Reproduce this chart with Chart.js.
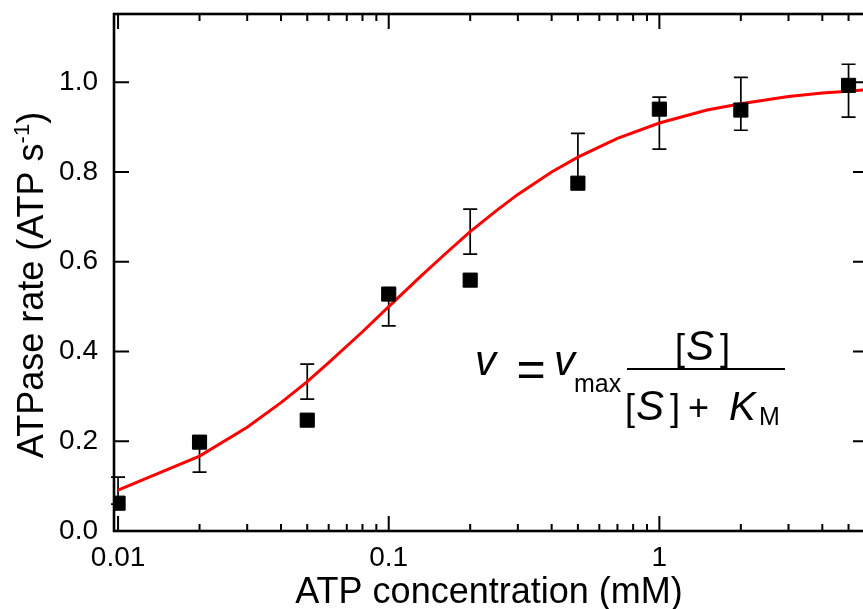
<!DOCTYPE html>
<html lang="en">
<head>
    <meta charset="UTF-8">
    <script src="https://cdn.jsdelivr.net/npm/chart.js"></script>
    <title>ATPase rate vs ATP</title>
    <style>
        body {
            margin: 0;
            overflow: hidden;
            background: #fff;
        }

        .wrap {
            width: 880px;
            height: 609px;
        }
    </style>
</head>
<body>
    <div class="wrap"><canvas id="atpChart"></canvas></div>

    <script>
        // measured points (mM, ATP/s)
        const concentration = [0.01, 0.02, 0.05, 0.1, 0.2, 0.5, 1, 2, 5];
        const rate = [0.062, 0.198, 0.247, 0.528, 0.559, 0.775, 0.94, 0.938, 0.993];
        const errLow = [0.06, 0.131, 0.294, 0.457, 0.617, 0.78, 0.851, 0.893, 0.922];
        const errHigh = [0.12, 0.2, 0.372, 0.54, 0.717, 0.886, 0.967, 1.011, 1.04];

        // red fit curve
        const fitConc = [0.01, 0.02, 0.03, 0.04, 0.05, 0.06, 0.08, 0.1, 0.13, 0.16, 0.2, 0.25, 0.3, 0.4, 0.5, 0.7, 1, 1.5, 2, 3, 4, 5, 6];
        const fitRate = [0.091, 0.167, 0.231, 0.286, 0.333, 0.375, 0.444, 0.5, 0.565, 0.615, 0.667, 0.714, 0.75, 0.8, 0.833, 0.875, 0.909, 0.938, 0.952, 0.968, 0.976, 0.98, 0.984];

        const xTickValues = [0.01, 0.1, 1];
        const xTickLabels = ['0.01', '0.1', '1'];
        const yTickValues = [0, 0.2, 0.4, 0.6, 0.8, 1.0];

        const FONT = "'Liberation Sans', Arial, sans-serif";

        const errorBars = {
            id: 'errorBars',
            beforeDatasetsDraw(chart) {
                const { ctx, scales: { x, y } } = chart;
                ctx.save();
                ctx.strokeStyle = '#000';
                ctx.lineWidth = 1.7;
                concentration.forEach((c, i) => {
                    const px = x.getPixelForValue(c);
                    const lo = y.getPixelForValue(errLow[i]);
                    const hi = y.getPixelForValue(errHigh[i]);
                    ctx.beginPath();
                    ctx.moveTo(px, lo); ctx.lineTo(px, hi);
                    ctx.moveTo(px - 7, lo); ctx.lineTo(px + 7, lo);
                    ctx.moveTo(px - 7, hi); ctx.lineTo(px + 7, hi);
                    ctx.stroke();
                });
                ctx.restore();
            }
        };

        const frame = {
            id: 'frame',
            afterDraw(chart) {
                const { ctx, chartArea: a, scales: { x, y } } = chart;
                ctx.save();
                ctx.strokeStyle = '#000';

                // ticks, pointing inward on all four sides
                ctx.lineWidth = 2;
                ctx.beginPath();
                for (let e = -3; e <= 1; e++) {
                    for (let m = 1; m <= 9; m++) {
                        const v = m * Math.pow(10, e);
                        if (v < x.min || v > x.max) continue;
                        const px = x.getPixelForValue(v);
                        const len = m === 1 ? 15 : 7;
                        ctx.moveTo(px, a.bottom); ctx.lineTo(px, a.bottom - len);
                        ctx.moveTo(px, a.top); ctx.lineTo(px, a.top + len);
                    }
                }
                yTickValues.forEach(v => {
                    const py = y.getPixelForValue(v);
                    ctx.moveTo(a.left, py); ctx.lineTo(a.left + 15, py);
                    ctx.moveTo(a.right, py); ctx.lineTo(a.right - 15, py);
                });
                ctx.stroke();

                ctx.lineWidth = 2.6;
                ctx.strokeRect(a.left, a.top, a.right - a.left, a.bottom - a.top);

                ctx.fillStyle = '#000';

                // x title
                ctx.font = '36px ' + FONT;
                ctx.textAlign = 'center';
                ctx.textBaseline = 'alphabetic';
                ctx.fillText('ATP concentration (mM)', 489, 603);

                // y title with superscript
                ctx.save();
                ctx.translate(43, 285);
                ctx.rotate(-Math.PI / 2);
                const main = 'ATPase rate (ATP s';
                ctx.font = '36px ' + FONT;
                const w1 = ctx.measureText(main).width;
                const w3 = ctx.measureText(')').width;
                ctx.font = '22px ' + FONT;
                const w2 = ctx.measureText('-1').width;
                let sx = -(w1 + w2 + w3) / 2;
                ctx.textAlign = 'left';
                ctx.font = '36px ' + FONT;
                ctx.fillText(main, sx, 0);
                ctx.font = '22px ' + FONT;
                ctx.fillText('-1', sx + w1, -14);
                ctx.font = '36px ' + FONT;
                ctx.fillText(')', sx + w1 + w2, 0);
                ctx.restore();

                // Michaelis-Menten equation
                ctx.textAlign = 'left';
                ctx.font = 'italic 42px ' + FONT;
                ctx.fillText('v', 475, 375);
                ctx.font = '50px ' + FONT;
                ctx.textAlign = 'center';
                ctx.fillText('=', 531, 386);
                ctx.textAlign = 'left';
                ctx.font = 'italic 42px ' + FONT;
                ctx.fillText('v', 554, 375);
                ctx.font = '25px ' + FONT;
                ctx.fillText('max', 574, 392);

                ctx.lineWidth = 2;
                ctx.beginPath();
                ctx.moveTo(627, 369); ctx.lineTo(785, 369);
                ctx.stroke();

                const bracketS = (x0, base) => {
                    ctx.font = '36px ' + FONT;
                    ctx.fillText('[', x0, base);
                    ctx.font = 'italic 42px ' + FONT;
                    ctx.fillText('S', x0 + 11, base);
                    ctx.font = '36px ' + FONT;
                    ctx.fillText(']', x0 + 45, base);
                };
                bracketS(675, 360);
                bracketS(625, 420);
                ctx.font = '36px ' + FONT;
                ctx.fillText('+', 688, 420);
                ctx.font = 'italic 40px ' + FONT;
                ctx.fillText('K', 729, 420);
                ctx.font = '25px ' + FONT;
                ctx.fillText('M', 759, 425);

                ctx.restore();
            }
        };

        new Chart(document.getElementById('atpChart'), {
            type: 'scatter',
            data: {
                datasets: [{
                    label: 'data',
                    data: concentration.map((c, i) => ({ x: c, y: rate[i] })),
                    pointStyle: 'rect',
                    pointRadius: 10,
                    pointHoverRadius: 10,
                    backgroundColor: '#000',
                    borderColor: '#000',
                    borderWidth: 1,
                    order: 0
                },
                {
                    label: 'fit',
                    data: fitConc.map((c, i) => ({ x: c, y: fitRate[i] })),
                    showLine: true,
                    pointRadius: 0,
                    borderColor: '#ff0000',
                    borderWidth: 3,
                    tension: 0,
                    order: 1
                }]
            },
            options: {
                responsive: true,
                maintainAspectRatio: false,
                animation: false,
                layout: { padding: { top: 14, right: 12, left: 0, bottom: 0 } },
                plugins: {
                    legend: { display: false },
                    tooltip: { enabled: false }
                },
                scales: {
                    x: {
                        type: 'logarithmic',
                        min: 0.00966,
                        max: 5.9,
                        grid: { display: false, drawTicks: false },
                        border: { display: false },
                        afterBuildTicks: s => { s.ticks = xTickValues.map(v => ({ value: v })); },
                        afterFit: s => {
                            s.height = 78;
                            s.paddingLeft = 0; s.paddingRight = 0;
                        },
                        ticks: {
                            autoSkip: false,
                            maxRotation: 0,
                            padding: 10,
                            color: '#000',
                            font: { family: FONT, size: 28 },
                            callback: (v) => xTickLabels[xTickValues.indexOf(v)]
                        }
                    },
                    y: {
                        min: 0,
                        max: 1.152,
                        grid: { display: false, drawTicks: false },
                        border: { display: false },
                        afterBuildTicks: s => { s.ticks = yTickValues.map(v => ({ value: v })); },
                        afterFit: s => {
                            s.width = 114;
                            s.paddingTop = 0; s.paddingBottom = 0;
                        },
                        ticks: {
                            padding: 16,
                            color: '#000',
                            font: { family: FONT, size: 28 },
                            callback: v => v.toFixed(1)
                        }
                    }
                }
            },
            plugins: [errorBars, frame]
        });
    </script>
</body>
</html>
